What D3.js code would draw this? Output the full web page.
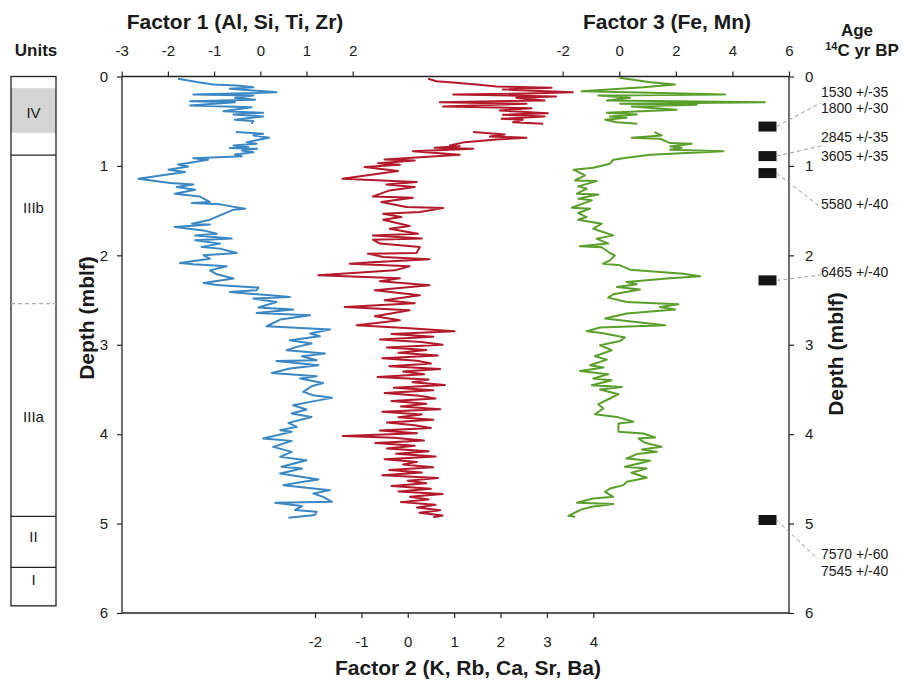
<!DOCTYPE html>
<html>
<head>
<meta charset="utf-8">
<script src="https://cdn.jsdelivr.net/npm/d3@7/dist/d3.min.js"></script>
<style>
body { margin: 0; background: #fff; }
text { font-family: "Liberation Sans", Arial, sans-serif; fill: #1a1a1a; }
</style>
</head>
<body>
<svg width="904" height="682"></svg>
<script>
// ---- data (depth in m below lake floor, factor scores) ----
// null = no sample (gap where the dating material was taken)
const f1Depth = [0.026,0.064,0.089,0.101,0.120,0.137,0.175,0.187,0.201,0.212,0.238,0.260,0.276,0.287,0.324,0.343,0.388,0.406,0.425,0.447,0.484,0.499,0.528,0.575,
  0.622,0.640,0.659,0.685,0.704,0.734,0.752,0.771,0.790,0.800,0.808,0.827,0.846,0.872,0.891,0.913,0.931,0.969,0.983,1.006,1.042,1.069,1.143,1.192,1.207,1.237,1.266,1.311,1.341,1.404,1.416,1.430,1.478,1.489,1.553,1.601,1.646,1.654,1.684,1.721,1.758,1.777,1.813,1.832,1.869,1.907,1.925,1.974,2.000,2.037,2.086,2.101,2.123,2.168,2.212,2.260,2.309,2.332,2.361,2.391,2.410,2.447,2.466,2.484,2.522,2.584,2.607,2.645,2.670,2.718,2.793,2.830,2.875,2.905,2.950,2.987,3.024,3.061,3.098,3.128,3.173,3.181,3.229,3.266,3.315,3.352,3.378,3.427,3.464,3.527,3.564,3.594,3.639,3.676,3.724,3.769,3.807,3.874,3.918,3.955,3.974,4.048,4.075,4.142,4.198,4.254,4.291,4.365,4.383,4.439,4.506,4.533,4.570,4.626,4.663,4.701,4.756,4.768,4.804,4.849,4.868,4.905,4.935]
const f1Value = [-1.78,-1.34,-1.02,-0.51,-0.15,-0.66,0.35,-0.29,-1.45,-0.15,-0.55,-0.11,-1.52,-0.55,-1.52,-0.19,-0.80,0.06,-0.58,0.06,-0.55,-0.15,-0.19,null,
  -0.53,0.06,-0.15,0.19,-0.01,-0.29,-0.08,-0.58,-0.26,-0.66,-0.07,-0.40,-0.15,-0.55,-0.40,-1.45,-1.13,-1.59,-1.78,-1.56,-1.99,-1.63,-2.64,-1.95,-1.45,-1.81,-1.41,-1.85,-1.31,-1.09,-1.48,-0.87,-0.33,-0.58,-0.87,-1.09,-1.48,-1.09,-1.85,-1.23,-0.94,-1.41,-0.62,-1.41,-0.87,-1.27,-0.87,-0.51,-1.23,-1.09,-1.74,-1.45,-0.73,-1.09,-0.94,-0.58,-1.23,-0.94,-0.04,-0.08,-0.66,0.21,0.64,-0.15,0.35,-0.04,0.71,-0.08,1.08,0.43,0.14,1.51,1.08,1.29,0.64,1.11,0.79,0.57,1.40,0.90,1.22,0.35,1.26,0.64,0.25,1.22,0.86,1.36,1.11,0.93,1.15,1.55,1.08,0.71,1.00,0.68,1.11,0.61,0.79,0.43,0.68,0.06,0.68,0.28,0.68,0.43,1.00,0.46,0.90,0.43,1.26,0.93,0.50,1.51,1.15,1.36,1.55,0.32,0.90,0.75,1.22,1.18,0.61]

const f2Depth = [0.026,0.053,0.064,0.089,0.112,0.126,0.145,0.175,0.190,0.201,0.223,0.238,0.268,0.287,0.305,0.335,0.354,0.380,0.410,0.428,0.447,0.473,0.484,0.511,0.528,0.575,
  0.622,0.648,0.670,0.685,0.704,0.734,0.771,0.779,0.797,0.808,0.835,0.875,0.927,0.939,0.969,0.987,1.013,1.058,1.143,1.181,1.207,1.237,1.274,1.341,1.355,1.404,1.460,1.472,1.516,1.534,1.572,1.601,1.673,1.702,1.758,1.777,1.813,1.825,1.869,1.907,1.974,1.981,2.019,2.045,2.078,2.093,2.123,2.168,2.223,2.257,2.291,2.335,2.391,2.447,2.503,2.536,2.578,2.615,2.682,2.726,2.782,2.816,
  2.85,2.88,2.91,2.94,2.97,3.00,3.03,3.06,3.09,3.12,3.15,3.18,3.21,3.24,3.27,3.30,3.33,3.36,3.39,3.42,3.45,3.48,3.51,3.54,3.57,3.60,3.63,3.66,3.69,3.72,3.75,3.78,3.81,3.84,3.87,3.90,3.93,3.96,3.99,4.02,4.04,4.07,4.10,4.13,4.16,4.19,4.22,4.25,4.28,4.31,4.34,4.37,4.40,4.43,4.46,4.49,4.52,4.55,4.58,4.61,4.64,4.67,4.70,4.73,4.76,4.79,4.82,4.85,4.88,4.91,4.93]
const f2Value = [0.44,0.62,0.91,1.48,1.91,3.10,2.05,3.56,2.56,0.98,3.20,2.34,2.95,0.69,2.56,0.76,2.67,1.98,3.02,2.05,2.95,2.02,2.48,2.27,2.92,null,
  1.41,2.09,1.77,2.56,1.91,1.23,0.91,1.12,0.58,1.41,0.11,1.12,-0.50,0.15,-0.64,-0.17,-0.93,-0.21,-1.41,0.19,-0.46,0.15,-0.39,-0.75,0.11,-0.57,-0.03,0.76,0.26,-0.53,-0.14,-0.53,0.04,-0.39,0.22,-0.75,0.30,-0.75,-0.60,0.26,0.19,-0.86,-0.53,0.47,-0.78,-1.25,0.04,-0.28,-1.93,-0.17,-0.60,0.47,-0.71,0.26,-0.50,0.15,-1.36,0.04,-0.71,-0.17,-1.10,0.04,
  1.01,-0.35,0.55,-0.60,0.30,0.75,-0.45,0.40,-0.20,0.65,-0.55,0.20,0.50,-0.40,0.70,-0.10,0.35,-0.65,0.45,0.10,0.80,-0.30,0.55,-0.50,0.25,0.60,-0.35,0.40,-0.15,0.70,-0.55,0.30,-0.20,0.55,-0.45,0.15,0.50,-0.60,0.20,-1.40,-0.30,0.35,-0.70,0.15,-0.45,0.45,-0.25,0.60,-0.50,0.20,-0.10,0.55,-0.40,0.30,-0.55,0.65,0.00,0.40,-0.35,0.50,-0.20,0.75,0.05,0.45,-0.15,0.60,0.20,0.70,0.25,0.75,0.55]

const f3Depth = [0.015,0.064,0.089,0.120,0.164,0.175,0.201,0.212,0.238,0.268,0.287,0.305,0.316,0.335,0.372,0.406,0.425,0.447,0.461,0.484,0.511,0.528,0.575,
  0.622,0.659,0.685,0.696,0.745,0.752,0.782,0.797,0.819,0.835,0.875,0.908,0.931,0.975,1.020,1.042,1.106,1.162,1.170,1.229,1.255,1.311,1.320,1.366,1.385,1.467,1.478,1.527,1.572,1.601,1.646,1.702,1.777,1.813,1.869,1.899,1.910,1.974,2.000,2.056,2.093,2.112,2.160,2.205,2.235,2.260,2.298,2.324,2.354,2.383,2.436,2.473,2.522,2.547,2.578,2.607,2.651,2.707,2.726,2.782,2.808,2.849,2.868,2.919,2.957,3.006,3.061,3.128,3.166,3.229,3.255,3.293,3.330,3.378,3.397,3.453,3.472,3.501,3.553,3.601,3.665,3.713,3.777,3.807,3.862,3.881,3.974,3.992,4.037,4.048,4.097,4.142,4.171,4.198,4.223,4.272,4.298,4.365,4.383,4.432,4.488,4.533,4.570,4.607,4.645,4.701,4.719,4.768,4.782,4.812,4.841,4.913,4.924]
const f3Value = [0.00,1.09,1.97,0.85,-1.33,0.32,3.74,-0.74,0.38,-0.44,5.15,0.03,2.74,0.44,2.03,-0.44,0.62,-0.33,0.26,-0.50,-0.09,0.64,null,
  1.24,1.50,0.44,1.44,1.80,2.56,1.80,2.21,1.80,3.68,1.09,0.26,-0.21,-0.33,-0.92,-1.62,-1.21,-1.56,-0.80,-1.45,-1.15,-1.50,-0.74,-1.45,-0.97,-1.68,-1.03,-1.45,-1.15,-1.45,-0.62,-0.92,-0.21,-0.80,-0.39,-1.39,-0.62,-0.33,-0.16,-0.33,-0.57,0.03,0.38,2.26,2.86,1.68,0.26,0.62,-0.09,0.73,-0.21,-0.39,0.26,2.09,1.44,1.97,0.26,-0.50,0.03,1.62,-0.68,-1.15,-0.62,0.20,0.03,-0.68,-0.27,-0.86,-0.44,-1.03,-0.56,-1.39,-0.39,-0.92,-0.27,-0.97,0.09,-0.68,-0.03,-0.33,-0.74,-0.56,-0.86,-0.09,0.50,-0.03,-0.03,0.85,1.27,0.68,0.91,1.50,0.80,1.33,0.62,0.26,1.09,0.20,0.97,0.44,0.97,0.26,0.15,-0.33,-0.50,-0.21,-0.92,-1.50,-0.21,-0.97,-1.33,-1.80,-1.56]

// tick labels
const f1Ticks = [-3, -2, -1, 0, 1, 2]
const f2Ticks = [-2, -1, 0, 1, 2, 3, 4]
const f3Ticks = [-2, 0, 2, 4, 6]
const depthTicks = [0, 1, 2, 3, 4, 5, 6]

// lithological units
const unitNames = ["IV", "IIIb", "IIIa", "II", "I"]
const unitLabelDepth = [0.41, 1.47, 3.81, 5.15, 5.63]
const unitBreaks = [0.88, 4.92, 5.49]
const subUnitBreak = 2.54
const unitBase = 5.92
const shadeTop = 0.13, shadeBottom = 0.63

// radiocarbon samples (one label block per sample)
const ageDepth = [0.56, 0.89, 1.08, 2.28, 4.96]
const leaderDepth = [0.293, 0.777, 1.438, 2.22, 5.396]
const ageLabels = [["1530 +/-35", "1800 +/-30"], ["2845 +/-35", "3605 +/-35"], ["5580 +/-40"], ["6465 +/-40"], ["7570 +/-60", "7545 +/-40"]]
const ageLabelDepth = [[0.17, 0.355], [0.673, 0.886], [1.426], [2.19], [5.345, 5.533]]

// ---- chart ----
const svg = d3.select("svg")
const pLeft = 122, pRight = 789, pTop = 76.5, pBottom = 613

const y = d3.scaleLinear().domain([0, 6]).range([pTop, pBottom])
const x1 = d3.scaleLinear().domain([-3, 2]).range([121.7, 352.7])
const x2 = d3.scaleLinear().domain([-2, 4]).range([315, 593.3])
const x3 = d3.scaleLinear().domain([-2, 6]).range([562.7, 789])

const colors = { f1: "#3a87c4", f2: "#b3192a", f3: "#5a9e2b" }

// frame lines
const frame = svg.append("g").attr("stroke", "#222").attr("stroke-width", 1.3)
frame.append("line").attr("x1", pLeft).attr("x2", pRight).attr("y1", pTop).attr("y2", pTop)
frame.append("line").attr("x1", pLeft).attr("x2", pRight).attr("y1", pBottom).attr("y2", pBottom)
frame.append("line").attr("x1", pLeft).attr("x2", pLeft).attr("y1", pTop).attr("y2", pBottom)
frame.append("line").attr("x1", pRight).attr("x2", pRight).attr("y1", pTop).attr("y2", pBottom)

function styleAxis(g) {
  g.select(".domain").remove()
  g.selectAll(".tick line").attr("stroke", "#222").attr("stroke-width", 1.2)
  g.selectAll(".tick text").attr("font-size", 15).attr("fill", "#1a1a1a")
    .attr("font-family", "Liberation Sans, Arial, sans-serif")
}
const plain = d => String(d)   // hyphen minus like the original

svg.append("g").attr("transform", `translate(0,${pTop})`)
  .call(d3.axisTop(x1).tickValues(f1Ticks).tickSize(5).tickPadding(16).tickFormat(plain))
  .call(styleAxis)
svg.append("g").attr("transform", `translate(0,${pTop})`)
  .call(d3.axisTop(x3).tickValues(f3Ticks).tickSize(5).tickPadding(16).tickFormat(plain))
  .call(styleAxis)
svg.append("g").attr("transform", `translate(0,${pBottom})`)
  .call(d3.axisBottom(x2).tickValues(f2Ticks).tickSize(5).tickPadding(18).tickFormat(plain))
  .call(styleAxis)
svg.append("g").attr("transform", `translate(${pLeft},0)`)
  .call(d3.axisLeft(y).tickValues(depthTicks).tickSize(5).tickPadding(9).tickFormat(plain))
  .call(styleAxis)
svg.append("g").attr("transform", `translate(${pRight},0)`)
  .call(d3.axisRight(y).tickValues(depthTicks).tickSize(5).tickPadding(11).tickFormat(plain))
  .call(styleAxis)

// titles
const bold = (x, yy, txt, size) => svg.append("text").attr("x", x).attr("y", yy)
  .attr("text-anchor", "middle").attr("font-weight", "bold").attr("font-size", size).text(txt)
bold(235, 29, "Factor 1 (Al, Si, Ti, Zr)", 21)
bold(667, 29, "Factor 3 (Fe, Mn)", 21)
bold(468, 675, "Factor 2 (K, Rb, Ca, Sr, Ba)", 21)
bold(36, 56, "Units", 17)
bold(857, 36, "Age", 17)
const ageT = svg.append("text").attr("x", 862).attr("y", 56).attr("text-anchor", "middle")
  .attr("font-weight", "bold").attr("font-size", 17)
ageT.append("tspan").attr("font-size", 11).attr("dy", -6).text("14")
ageT.append("tspan").attr("dy", 6).text("C yr BP")

svg.append("text").attr("transform", "translate(94,318) rotate(-90)")
  .attr("text-anchor", "middle").attr("font-weight", "bold").attr("font-size", 21).text("Depth (mblf)")
svg.append("text").attr("transform", "translate(843,354) rotate(-90)")
  .attr("text-anchor", "middle").attr("font-weight", "bold").attr("font-size", 21).text("Depth (mblf)")

// curves
function series(depths, values) {
  return depths.map((d, i) => ({ depth: d, value: values[i] }))
}
function drawCurve(data, xs, color) {
  const line = d3.line()
    .defined(d => d.value !== null)
    .x(d => xs(d.value))
    .y(d => y(d.depth))
  svg.append("path").datum(data)
    .attr("fill", "none").attr("stroke", color).attr("stroke-width", 2)
    .attr("stroke-linejoin", "round")
    .attr("d", line)
}
drawCurve(series(f1Depth, f1Value), x1, colors.f1)
drawCurve(series(f2Depth, f2Value), x2, colors.f2)
drawCurve(series(f3Depth, f3Value), x3, colors.f3)

// units column
const ux0 = 11, ux1 = 56
const units = svg.append("g")
units.append("rect").attr("x", ux0).attr("width", ux1 - ux0)
  .attr("y", y(shadeTop)).attr("height", y(shadeBottom) - y(shadeTop)).attr("fill", "#d4d4d4")
units.append("rect").attr("x", ux0).attr("width", ux1 - ux0)
  .attr("y", y(0)).attr("height", y(unitBase) - y(0))
  .attr("fill", "none").attr("stroke", "#222").attr("stroke-width", 1.3)
units.selectAll("line.brk").data(unitBreaks).enter().append("line")
  .attr("x1", ux0).attr("x2", ux1).attr("y1", d => y(d)).attr("y2", d => y(d))
  .attr("stroke", "#222").attr("stroke-width", 1.3)
units.append("line").attr("x1", ux0).attr("x2", ux1)
  .attr("y1", y(subUnitBreak)).attr("y2", y(subUnitBreak))
  .attr("stroke", "#aaa").attr("stroke-width", 1.2).attr("stroke-dasharray", "4,3")
units.selectAll("text.unit").data(unitNames).enter().append("text")
  .attr("x", (ux0 + ux1) / 2).attr("y", (d, i) => y(unitLabelDepth[i]))
  .attr("dy", "0.35em").attr("text-anchor", "middle").attr("font-size", 15)
  .text(d => d)

// dated samples
const rectW = 18, rectH = 10, rectX = 758.5
const leaderEnd = [821, 821, 818, 821, 818]
const ages = svg.append("g")
ages.selectAll("rect").data(ageDepth).enter().append("rect")
  .attr("x", rectX).attr("width", rectW)
  .attr("y", d => y(d) - rectH / 2).attr("height", rectH).attr("fill", "#151515")
ages.selectAll("line").data(ageDepth).enter().append("line")
  .attr("x1", rectX + rectW).attr("y1", d => y(d))
  .attr("x2", (d, i) => leaderEnd[i])
  .attr("y2", (d, i) => y(leaderDepth[i]))
  .attr("stroke", "#9a9a9a").attr("stroke-width", 1).attr("stroke-dasharray", "4,3")
const ageText = ages.selectAll("text").data(ageLabels).enter().append("text")
  .attr("font-size", 14)
ageText.each(function (lines, i) {
  d3.select(this).selectAll("tspan").data(lines).enter().append("tspan")
    .attr("x", 821).attr("y", (t, j) => y(ageLabelDepth[i][j]))
    .attr("dy", "0.35em").text(t => t)
})
</script>
</body>
</html>
